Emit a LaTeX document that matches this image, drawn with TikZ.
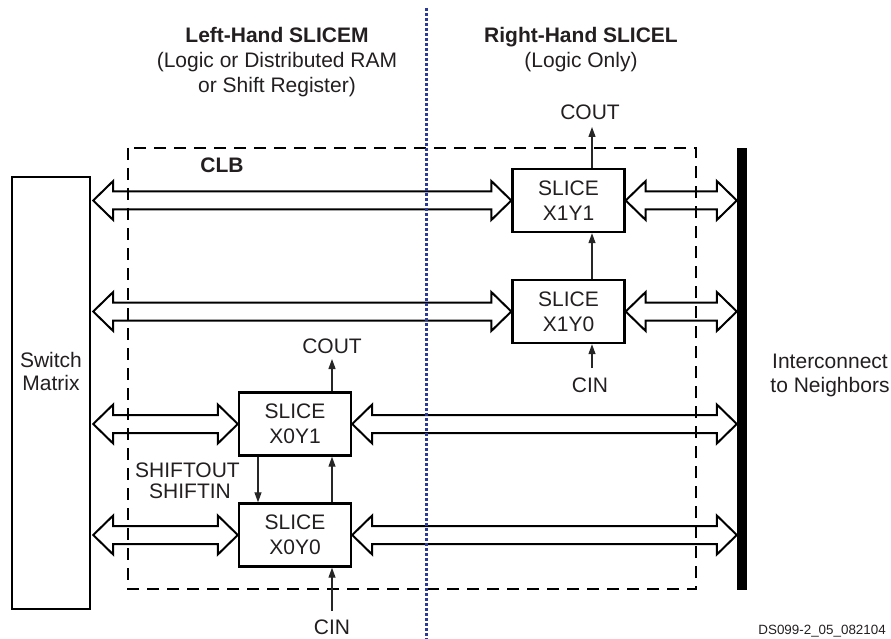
\documentclass[tikz,border=0pt]{standalone}
\usepackage{fontspec}
\setmainfont{Liberation Sans}
\usetikzlibrary{arrows.meta,calc}
\definecolor{txt}{HTML}{231F20}
\definecolor{divblue}{HTML}{2B3A99}
\newcommand\harw[2]{%
  \draw[harrow] let \p1=#1, \p2=#2 in
    (\x1,\y1) -- (\x1+20pt,\y1+19.5pt) -- (\x1+20pt,\y1+9pt) -- (\x2-20pt,\y1+9pt)
    -- (\x2-20pt,\y1+19.5pt) -- (\x2,\y1) -- (\x2-20pt,\y1-19.5pt) -- (\x2-20pt,\y1-9pt)
    -- (\x1+20pt,\y1-9pt) -- (\x1+20pt,\y1-19.5pt) -- cycle;}
\begin{document}
\begin{tikzpicture}[x=1pt,y=-1pt,
  every node/.style={font=\fontsize{21}{25}\selectfont, text=txt, inner sep=0pt},
  slicebox/.style={draw=black, line width=2.4pt, minimum width=112pt, minimum height=63pt, align=center},
  harrow/.style={draw=black, line width=2pt, line join=miter},
  sarrow/.style={draw=black!85, line width=1.2pt, -{Triangle[length=10pt,width=7pt]}},
  lbl/.style={anchor=base},
  boldlbl/.style={anchor=base, font=\fontsize{21}{25}\selectfont\bfseries},
  clbline/.style={draw=black, line width=1.1pt, dash pattern=on 12pt off 8pt},
  divline/.style={draw=divblue, line width=2.4pt, dash pattern=on 3pt off 2pt}]
\useasboundingbox (0,0) rectangle (891,639);

% CLB dashed boundary
\draw[clbline] (128,148) rectangle (696,589);

% headers
\node[boldlbl] (lh1) at (277,43) {Left-Hand SLICEM};
\node[lbl] (lh2) at (277,68) {(Logic or Distributed RAM};
\node[lbl] (lh3) at (277,93) {or Shift Register)};
\node[boldlbl] (rh1) at (581,43) {Right-Hand SLICEL};
\node[lbl] (rh2) at (581,68) {(Logic Only)};
\node[boldlbl] (clb) at (222,173) {CLB};

% switch matrix and interconnect bar
\node[draw=black, line width=2.4pt, minimum width=78pt, minimum height=432pt] (sw) at (51,393) {};
\node[lbl] (swl1) at (51,367) {Switch};
\node[lbl] (swl2) at (51,390) {Matrix};
\node[fill=black, minimum width=10pt, minimum height=442pt] (bar) at (742,369) {};
\node[lbl] (ic1) at (830,368) {Interconnect};
\node[lbl] (ic2) at (830,392) {to Neighbors};

% slices
\node[slicebox] (x1y1) at (568.5,200.5) {SLICE\\X1Y1};
\node[slicebox] (x1y0) at (568.5,311.5) {SLICE\\X1Y0};
\node[slicebox] (x0y1) at (295,424) {SLICE\\X0Y1};
\node[slicebox] (x0y0) at (295,535) {SLICE\\X0Y0};

% hollow double arrows
\harw{($(sw.east |- x1y1.west)+(2,0)$)}{(x1y1.west)}
\harw{(x1y1.east)}{(bar.west |- x1y1.east)}
\harw{($(sw.east |- x1y0.west)+(2,0)$)}{(x1y0.west)}
\harw{(x1y0.east)}{(bar.west |- x1y0.east)}
\harw{($(sw.east |- x0y1.west)+(2,0)$)}{(x0y1.west)}
\harw{(x0y1.east)}{(bar.west |- x0y1.east)}
\harw{($(sw.east |- x0y0.west)+(2,0)$)}{(x0y0.west)}
\harw{(x0y0.east)}{(bar.west |- x0y0.east)}

% carry chain, right column
\coordinate (c1top) at (592,127);
\coordinate (c1bot) at (592,368);
\node[lbl] (cout1) at (590,120) {COUT};
\node[lbl] (cin1) at (590,392) {CIN};
\draw[sarrow] (x1y1.north -| c1top) -- (c1top);
\draw[sarrow] (x1y0.north -| c1top) -- (x1y1.south -| c1top);
\draw[sarrow] (c1bot) -- (x1y0.south -| c1bot);

% carry chain and shift chain, left column
\coordinate (c0top) at (332,359);
\coordinate (c0bot) at (332,611);
\coordinate (c0sh) at (258,480);
\node[lbl] (cout0) at (332,353) {COUT};
\node[lbl] (cin0) at (332,634) {CIN};
\node[lbl] (shout) at (187.5,477) {SHIFTOUT};
\node[lbl] (shin) at (190,498) {SHIFTIN};
\draw[sarrow] (x0y1.north -| c0top) -- (c0top);
\draw[sarrow] (x0y0.north -| c0top) -- (x0y1.south -| c0top);
\draw[sarrow] (x0y1.south -| c0sh) -- (x0y0.north -| c0sh);
\draw[sarrow] (c0bot) -- (x0y0.south -| c0bot);

% divider
\coordinate (dtop) at (426.5,8);
\coordinate (dbot) at (426.5,639);
\draw[divline] (dtop) -- (dbot);

% figure id
\node[anchor=base east, font=\fontsize{13.4}{16}\selectfont] (fid) at (886,634) {DS099-2\_05\_082104};
\end{tikzpicture}
\end{document}
